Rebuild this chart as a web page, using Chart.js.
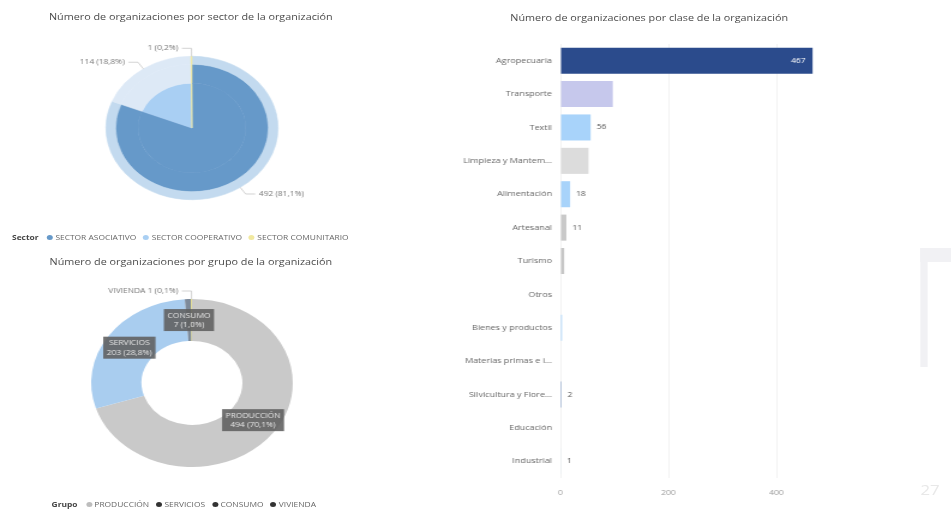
<!DOCTYPE html>
<html>
<head>
<meta charset="utf-8">
<script src="https://cdn.jsdelivr.net/npm/chart.js@4.4.1/dist/chart.umd.min.js"></script>
<style>
  body { margin: 0; width: 951px; height: 512px; overflow: hidden; background: #fff; font-family: "Open Sans", sans-serif; }
  #page { position: absolute; left: 0; top: 0; width: 793px; height: 512px; transform: scaleX(1.2); transform-origin: 0 0; }
  .title { position: absolute; text-align: center; font-size: 9px; color: #4a4a4a; line-height: 12px; white-space: nowrap; }
  .legend { position: absolute; font-size: 7px; color: #666; line-height: 10px; white-space: nowrap; }
  .legend b { color: #444; margin-right: 3px; }
  .legend span.dot { display: inline-block; width: 5px; height: 5px; border-radius: 50%; margin: 0 2px 0 4px; vertical-align: 0px; }
  canvas { position: absolute; }
  .deco { position: absolute; background: #f1f1f4; }
</style>
</head>
<body>
<div id="page">
  <div class="title" style="left:0; top:11px; width:318px;">Número de organizaciones por sector de la organización</div>
  <div class="legend" id="legendSector" style="left:10px; top:233px;"></div>
  <div class="title" style="left:0; top:256px; width:318px;">Número de organizaciones por grupo de la organización</div>
  <div class="legend" id="legendGrupo" style="left:43px; top:500px;"></div>
  <div class="title" style="left:391px; top:12px; width:300px;">Número de organizaciones por clase de la organización</div>

  <div style="position:absolute; left:40px; top:30px; width:240px; height:196px;"><canvas id="sectorChart" width="240" height="196"></canvas></div>
  <div style="position:absolute; left:40px; top:280px; width:240px; height:206px;"><canvas id="grupoChart" width="240" height="206"></canvas></div>
  <div style="position:absolute; left:360px; top:30px; width:333px; height:474px;"><canvas id="claseChart" width="333" height="474"></canvas></div>

  <div class="deco" style="left:767px; top:248px; width:26px; height:14px;"></div>
  <div class="deco" style="left:767px; top:248px; width:6px; height:119px;"></div>
  <div style="position:absolute; left:767px; top:480px; font-size:14px; color:#e8e8e8;">27</div>
</div>

<script>
const sectorNames = ["SECTOR ASOCIATIVO", "SECTOR COOPERATIVO", "SECTOR COMUNITARIO"];
const sectorCounts = [492, 114, 1];

const grupoNames = ["PRODUCCIÓN", "SERVICIOS", "CONSUMO", "VIVIENDA"];
const grupoCounts = [494, 203, 7, 1];

const claseNames = [
  "Agropecuaria", "Transporte", "Textil", "Limpieza y Mantem...", "Alimentación",
  "Artesanal", "Turismo", "Otros", "Bienes y productos", "Materias primas e i...",
  "Silvicultura y Flore...", "Educación", "Industrial"
];
const claseCounts = [467, 97, 56, 52, 18, 11, 7, 1, 3, 1, 2, 1, 1];
// only these bars carry a value label in the report
const claseLabelled = ["Agropecuaria", "Textil", "Alimentación", "Artesanal", "Silvicultura y Flore...", "Industrial"];
const claseTicks = [0, 200, 400];

const sectorColors = ["#6699c9", "#a9cff3", "#f1e9a0"];
const grupoColors = ["#c9c9c9", "#a9cdef", "#7d8a9a", "#e9df78"];
const claseColors = [
  "#2b4b8c", "#c6c8ec", "#a8d3fa", "#dcdcdc", "#a8d3fa", "#c9c9c9", "#c6c6c6",
  "#e6e6e6", "#a8d3fa", "#ececec", "#5d7fb6", "#e6e6e6", "#9bb8e0"
];

Chart.defaults.font.family = "'Open Sans', 'Noto Sans', sans-serif";
Chart.defaults.animation = false;

const pct = (v, total) => (v / total * 100).toFixed(1).replace(".", ",") + "%";

function buildLegend(el, title, names, dots) {
  el.innerHTML = `<b>${title}</b>` + names.map((n, i) =>
    `<span class="dot" style="background:${dots[i]}"></span>${n}`).join(" ");
}
buildLegend(document.getElementById("legendSector"), "Sector", sectorNames, sectorColors);
buildLegend(document.getElementById("legendGrupo"), "Grupo", grupoNames, ["#bdbdbd", "#333", "#333", "#333"]);

// leader-line labels outside the pie
const outsideLabels = {
  id: "outsideLabels",
  afterDatasetsDraw(chart, args, opts) {
    const meta = chart.getDatasetMeta(0);
    const data = chart.data.datasets[0].data;
    const total = data.reduce((a, b) => a + b, 0);
    const ctx = chart.ctx;
    ctx.save();
    ctx.font = "7px 'Open Sans'";
    ctx.textBaseline = "middle";
    meta.data.forEach((arc, i) => {
      if (data[i] / total >= opts.maxShare) return;
      const p = arc.getProps(["x", "y", "startAngle", "endAngle", "outerRadius"]);
      const a = (p.startAngle + p.endAngle) / 2;
      const side = Math.cos(a) >= 0 ? 1 : -1;
      const x0 = p.x + Math.cos(a) * p.outerRadius, y0 = p.y + Math.sin(a) * p.outerRadius;
      const x1 = p.x + Math.cos(a) * (p.outerRadius + 8), y1 = p.y + Math.sin(a) * (p.outerRadius + 8);
      const x2 = x1 + side * 8;
      ctx.strokeStyle = "#c8c8c8";
      ctx.lineWidth = 0.8;
      ctx.beginPath();
      ctx.moveTo(x0, y0); ctx.lineTo(x1, y1); ctx.lineTo(x2, y1);
      ctx.stroke();
      ctx.fillStyle = "#777";
      ctx.textAlign = side > 0 ? "left" : "right";
      const txt = (opts.withName ? chart.data.labels[i] + " " : "") + data[i] + " (" + pct(data[i], total) + ")";
      ctx.fillText(txt, x2 + side * 3, y1);
    });
    ctx.restore();
  }
};

// dark boxed labels inside the doughnut
const boxLabels = {
  id: "boxLabels",
  afterDatasetsDraw(chart, args, opts) {
    const meta = chart.getDatasetMeta(0);
    const data = chart.data.datasets[0].data;
    const total = data.reduce((a, b) => a + b, 0);
    const ctx = chart.ctx;
    ctx.save();
    ctx.font = "7px 'Open Sans'";
    ctx.textAlign = "center";
    ctx.textBaseline = "middle";
    meta.data.forEach((arc, i) => {
      if (data[i] / total < opts.minShare) return;
      const c = arc.getCenterPoint();
      const l1 = chart.data.labels[i];
      const l2 = data[i] + " (" + pct(data[i], total) + ")";
      const w = Math.max(ctx.measureText(l1).width, ctx.measureText(l2).width) + 6;
      ctx.fillStyle = "rgba(95, 95, 95, 0.88)";
      ctx.fillRect(c.x - w / 2, c.y - 11, w, 22);
      ctx.fillStyle = "#e6e6e6";
      ctx.fillText(l1, c.x, c.y - 4.5);
      ctx.fillText(l2, c.x, c.y + 5);
    });
    ctx.restore();
  }
};

const barValueLabels = {
  id: "barValueLabels",
  afterDatasetsDraw(chart) {
    const meta = chart.getDatasetMeta(0);
    const ctx = chart.ctx;
    ctx.save();
    ctx.font = "7px 'Open Sans'";
    ctx.textBaseline = "middle";
    meta.data.forEach((bar, i) => {
      if (!claseLabelled.includes(claseNames[i])) return;
      const width = bar.x - bar.base;
      if (width > 60) {
        ctx.fillStyle = "#fff";
        ctx.textAlign = "right";
        ctx.fillText(claseCounts[i], bar.x - 6, bar.y);
      } else {
        ctx.fillStyle = "#555";
        ctx.textAlign = "left";
        ctx.fillText(claseCounts[i], bar.x + 5, bar.y);
      }
    });
    ctx.restore();
  }
};

const ring = (colors, weight) => ({
  data: sectorCounts, backgroundColor: colors, borderColor: colors, borderWidth: 0.6, weight
});

new Chart(document.getElementById("sectorChart"), {
  type: "pie",
  data: {
    labels: sectorNames,
    datasets: [
      ring(["#c3daef", "#dde9f6", "#f1e9a0"], 8),
      ring(["#6699c9", "#dde9f6", "#f1e9a0"], 19),
      ring(["#6699c9", "#a9cff3", "#f1e9a0"], 45)
    ]
  },
  options: {
    responsive: false,
    events: [],
    layout: { padding: { top: 26, bottom: 26, left: 48, right: 48 } },
    plugins: {
      legend: { display: false },
      tooltip: { enabled: false },
      outsideLabels: { maxShare: 2, withName: false }
    }
  },
  plugins: [outsideLabels]
});

new Chart(document.getElementById("grupoChart"), {
  type: "doughnut",
  data: {
    labels: grupoNames,
    datasets: [{ data: grupoCounts, backgroundColor: grupoColors, borderWidth: 0 }]
  },
  options: {
    responsive: false,
    events: [],
    cutout: "50%",
    layout: { padding: { top: 19, bottom: 19, left: 36, right: 36 } },
    plugins: {
      legend: { display: false },
      tooltip: { enabled: false },
      outsideLabels: { maxShare: 0.005, withName: true },
      boxLabels: { minShare: 0.005 }
    }
  },
  plugins: [outsideLabels, boxLabels]
});

new Chart(document.getElementById("claseChart"), {
  type: "bar",
  data: {
    labels: claseNames,
    datasets: [{
      data: claseCounts,
      backgroundColor: claseColors,
      categoryPercentage: 1,
      barPercentage: 0.78
    }]
  },
  options: {
    responsive: false,
    events: [],
    indexAxis: "y",
    layout: { padding: { top: 14, right: 10 } },
    scales: {
      y: {
        grid: { display: false, drawTicks: false },
        border: { display: false },
        ticks: { color: "#666", font: { size: 7.5 }, padding: 7, autoSkip: false },
        afterFit(scale) { scale.width = 107; }
      },
      x: {
        min: 0,
        max: 480,
        grid: { color: "#f3f3f3", drawTicks: false },
        border: { display: false },
        ticks: { color: "#999", font: { size: 7 }, padding: 11, includeBounds: false },
        afterBuildTicks(scale) { scale.ticks = claseTicks.map(v => ({ value: v })); },
        afterFit(scale) { scale.height = 26; }
      }
    },
    plugins: {
      legend: { display: false },
      tooltip: { enabled: false }
    }
  },
  plugins: [barValueLabels]
});
</script>
</body>
</html>
